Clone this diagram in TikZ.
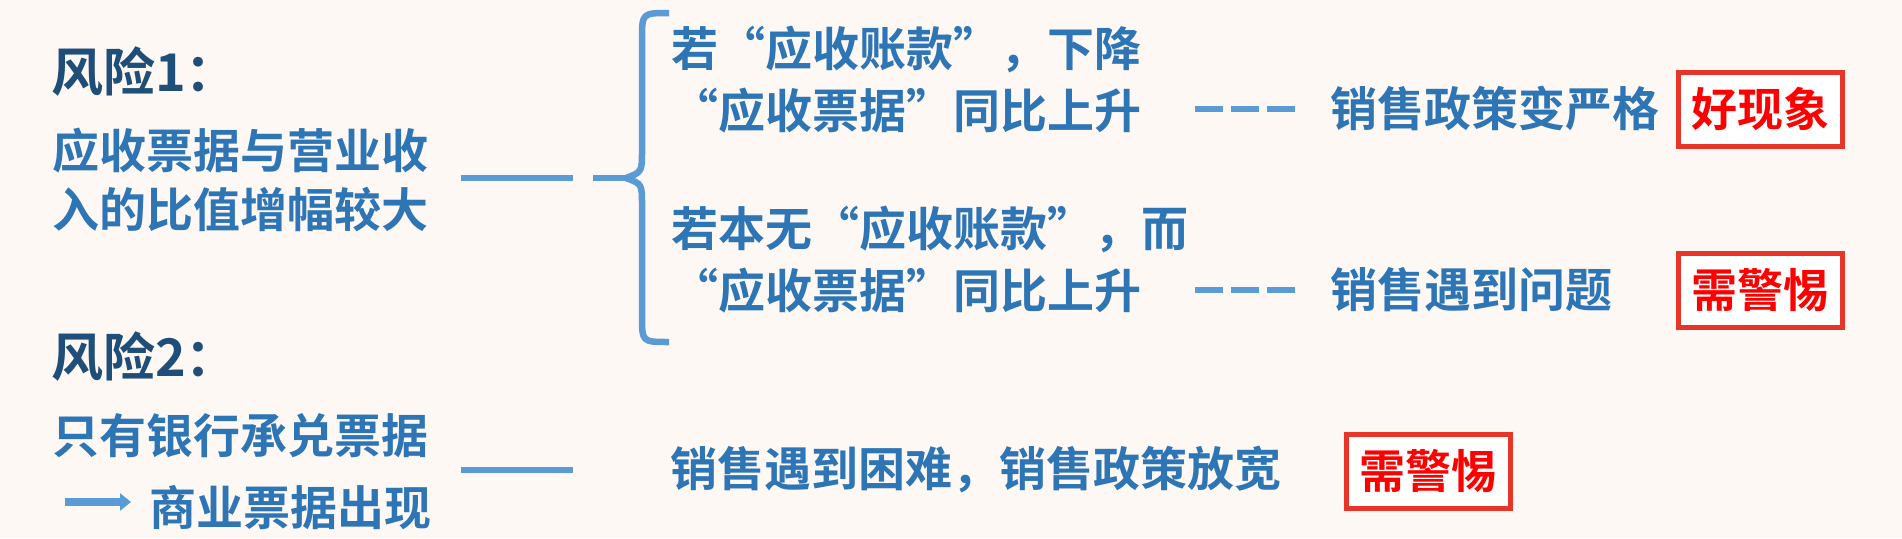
\documentclass[tikz,border=0pt]{standalone}
\usepackage{fontspec}
\setmainfont{Noto Sans CJK SC}[BoldFont={Noto Sans CJK SC Bold}]
\usetikzlibrary{arrows.meta,positioning}
\definecolor{bgcream}{HTML}{FDF8F4}
\definecolor{txtblue}{HTML}{2E75B6}
\definecolor{headblue}{HTML}{1F4E79}
\definecolor{lineblue}{HTML}{5B9BD5}
\definecolor{warnred}{HTML}{FF0000}
\definecolor{boxred}{HTML}{E8352A}
\tikzset{
  head/.style={anchor=west, inner sep=0pt, text=headblue,
    font=\fontsize{52}{60}\selectfont\bfseries},
  body/.style={anchor=west, inner sep=0pt, text=txtblue,
    font=\fontsize{47}{56}\selectfont\bfseries},
  tag/.style={draw=boxred, line width=5pt, fill=white, text=warnred,
    font=\fontsize{46}{56}\selectfont\bfseries,
    minimum width=164pt, minimum height=74pt, inner sep=0pt},
  link/.style={lineblue, line width=6.5pt},
  dashlink/.style={link, dash pattern=on 28pt off 8pt},
}
\begin{document}
\begin{tikzpicture}[x=1pt,y=-1pt]
  % background
  \fill[bgcream] (0,0) rectangle (1902,538);
  \useasboundingbox (0,0) rectangle (1902,538);
  % Risk 1
  \node[head] (risk1) at (51,72) {风险1：};
  \node[body] (r1a) at (52,151) {应收票据与营业收};
  \node[body] (r1b) at (52,209) {入的比值增幅较大};
  \coordinate (l1s) at (461,178);
  \coordinate (l1e) at (573,178);
  \draw[link] (l1s) -- (l1e);
  % Brace
  \coordinate (bstub) at (593,178);
  \coordinate (btip) at (626,178);
  \coordinate (btop) at (669,13);
  \coordinate (bbot) at (669,342);
  \draw[link] (bstub) -- (btip);
  \draw[link, line join=round] (btop) .. controls (642,13) .. (642,40) -- (642,150)
    .. controls (642,172) .. (btip) .. controls (642,184) .. (642,205)
    -- (642,316) .. controls (642,342) .. (bbot);
  % Case A
  \node[body] (ca1) at (671,50) {若“应收账款”，下降};
  \node[body] (ca2) at (671,111) {“应收票据”同比上升};
  \coordinate (da1) at (1195,109);
  \coordinate (da2) at (1300,109);
  \draw[dashlink] (da1) -- (da2);
  \node[body] (ra) at (1330,108) {销售政策变严格};
  \node[tag] (good) at (1760,109) {好现象};
  % Case B
  \node[body] (cb1) at (671,230) {若本无“应收账款”，而};
  \node[body] (cb2) at (671,291) {“应收票据”同比上升};
  \coordinate (db1) at (1195,290);
  \coordinate (db2) at (1300,290);
  \draw[dashlink] (db1) -- (db2);
  \node[body] (rb) at (1330,290) {销售遇到问题};
  \node[tag] (warn1) at (1760,290) {需警惕};
  % Risk 2
  \node[head] (risk2) at (51,357) {风险2：};
  \node[body] (r2a) at (52,436) {只有银行承兑票据};
  \node[body] (r2b) at (149,508) {商业票据出现};
  \coordinate (arr) at (65,502);
  \draw[lineblue, line width=8.5pt, -{Triangle[length=11pt,width=17pt]}] (arr) -- ([xshift=-18pt]r2b.west |- arr);
  \coordinate (l2s) at (461,470);
  \coordinate (l2e) at (573,470);
  \draw[link] (l2s) -- (l2e);
  \node[body] (rc) at (670,470) {销售遇到困难，销售政策放宽};
  \node[tag] (warn2) at (1428,471) {需警惕};
\end{tikzpicture}
\end{document}
